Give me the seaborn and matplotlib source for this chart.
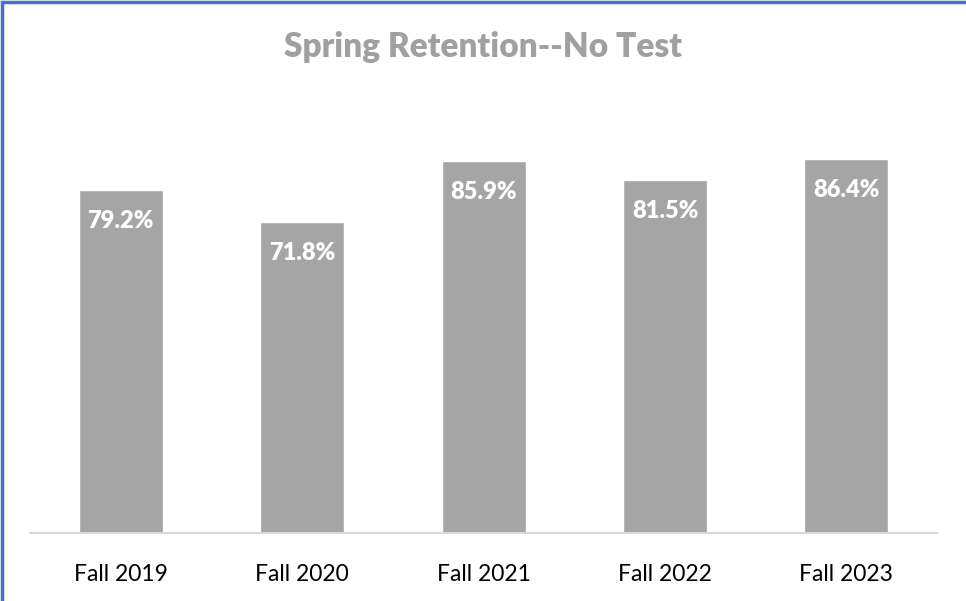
import matplotlib
matplotlib.use('Agg')
import matplotlib.pyplot as plt
import seaborn as sns
import pandas as pd
from matplotlib.lines import Line2D

sns.set_theme(style="white")
plt.rcParams['font.family'] = ['Lato', 'DejaVu Sans']

# data
terms = ['Fall 2019', 'Fall 2020', 'Fall 2021', 'Fall 2022', 'Fall 2023']
retention = [79.2, 71.8, 85.9, 81.5, 86.4]

df = pd.DataFrame({'term': terms, 'retention': retention})

fig = plt.figure(figsize=(9.66, 6.01), dpi=100)
fig.patch.set_facecolor('white')
ax = fig.add_axes([0.0311, 0.1131, 0.939, 0.7200])

sns.barplot(data=df, x='term', y='retention', color='#A5A5A5', saturation=1,
            width=0.463, ax=ax)

ax.set_xlim(-0.5, len(terms) - 0.5)
ax.set_ylim(0, 100)
ax.set_xlabel('')
ax.set_ylabel('')
ax.set_yticks([])
for s in ['top', 'right', 'left']:
    ax.spines[s].set_visible(False)
ax.spines['bottom'].set_color('#D9D9D9')
ax.spines['bottom'].set_linewidth(1.5)
ax.tick_params(axis='x', length=0, pad=22, labelsize=16.5, labelcolor='#000000')

# value labels inside the bars
for i, v in enumerate(retention):
    ax.annotate(f'{v:.1f}%', xy=(i, v), xytext=(0, -31), textcoords='offset pixels',
                ha='center', va='center', color='white', fontsize=17, fontweight='heavy')

fig.text(0.5, 0.922, 'Spring Retention--No Test', ha='center', va='center',
         fontsize=24, fontweight='heavy', color='#A0A0A0')

# chart frame (top and left edges visible)
fig.add_artist(Line2D([0.002, 0.002], [0, 0.997], transform=fig.transFigure,
                      color='#4472C4', linewidth=2.5))
fig.add_artist(Line2D([0.002, 1], [0.997, 0.997], transform=fig.transFigure,
                      color='#4472C4', linewidth=2.5))

fig.savefig('out.png', dpi=100, facecolor='white')
